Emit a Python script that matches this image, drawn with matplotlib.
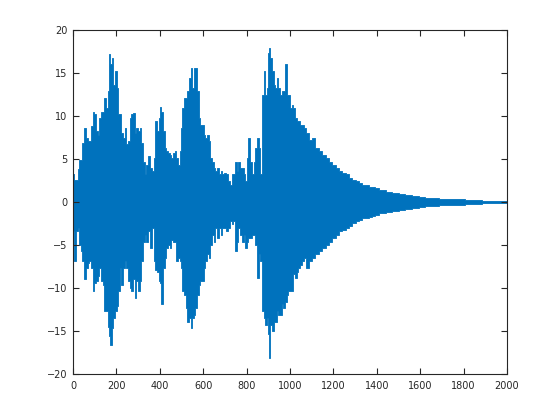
import matplotlib
matplotlib.use('Agg')
import matplotlib.pyplot as plt
import numpy as np

# envelope of the signal: sample index, upper and lower peaks
samples = [1, 9, 17, 25, 32, 40, 47, 55, 63, 71, 78, 86, 94, 101, 109, 117, 124, 132, 140, 147,
           155, 163, 167, 174, 181, 189, 197, 204, 212, 220, 227, 235, 243, 250, 258, 266, 273, 281, 289, 296,
           304, 312, 319, 327, 335, 342, 350, 361, 369, 376, 384, 392, 399, 404, 410, 418, 426, 433, 441, 449,
           456, 464, 472, 479, 487, 495, 499, 507, 515, 522, 530, 538, 545, 553, 561, 568, 576, 584, 591, 599,
           607, 614, 622, 630, 637, 645, 653, 660, 668, 676, 684, 691, 699, 711, 720, 728, 736, 743, 751, 759,
           766, 774, 782, 790, 797, 805, 812, 820, 828, 836, 843, 851, 859, 866, 874, 882, 889, 897, 902, 906,
           912, 920, 928, 935, 943, 951, 958, 966, 974, 982, 989, 997, 1005, 1012, 1020, 1028, 1035, 1043, 1051, 1058,
           1071, 1079, 1095, 1110, 1125, 1141, 1156, 1172, 1187, 1202, 1218, 1233, 1248, 1264, 1279, 1294, 1310, 1325, 1340, 1356,
           1371, 1386, 1402, 1417, 1433, 1455, 1485, 1516, 1547, 1578, 1608, 1639, 1670, 1700, 1731, 1768, 1845, 1921, 2000]
upper = [3.2, 2.6, 2.6, 3.8, 4.9, 4.9, 6.9, 8.6, 7.4, 7.1, 7.1, 8.8, 10.5, 10.2, 8.2, 7.8, 9.8, 10.5, 10.5, 12.1,
         10.9, 12.9, 17.2, 16.0, 16.7, 13.6, 15.2, 13.3, 10.2, 10.2, 8.0, 7.4, 8.6, 6.7, 7.1, 9.8, 10.2, 10.3, 8.0, 8.6,
         8.2, 8.6, 6.9, 4.7, 3.2, 4.3, 5.3, 4.0, 3.6, 5.1, 9.4, 8.2, 9.8, 11.1, 10.5, 8.2, 6.3, 5.9, 5.7, 5.5,
         5.1, 5.7, 5.9, 5.1, 4.3, 5.9, 8.6, 10.9, 12.1, 12.1, 12.9, 14.4, 15.6, 13.3, 15.6, 15.6, 12.9, 9.8, 9.0, 9.0,
         7.8, 7.4, 7.8, 7.1, 5.1, 4.7, 4.0, 3.6, 4.0, 3.2, 3.6, 3.2, 3.4, 3.2, 2.4, 2.0, 3.2, 3.2, 4.7, 3.6,
         4.7, 4.0, 4.0, 3.2, 2.4, 5.1, 7.4, 4.7, 3.2, 4.7, 6.3, 7.4, 6.3, 3.2, 12.5, 15.2, 12.5, 13.3, 17.3, 17.9,
         16.7, 15.2, 13.6, 13.3, 14.4, 13.3, 12.5, 12.9, 12.9, 16.0, 12.5, 12.5, 10.9, 11.3, 10.9, 9.8, 9.4, 9.4, 9.0, 9.0,
         8.6, 8.0, 7.2, 7.4, 6.3, 5.9, 5.5, 5.1, 4.7, 4.3, 4.0, 3.6, 3.4, 3.2, 2.8, 2.6, 2.4, 2.2, 2.0, 2.0,
         1.8, 1.7, 1.6, 1.4, 1.4, 1.2, 1.0, 0.9, 0.8, 0.7, 0.6, 0.5, 0.5, 0.4, 0.4, 0.3, 0.2, 0.15, 0.1]
lower = [-3.4, -6.9, -3.4, -3.0, -5.0, -5.7, -6.9, -9.0, -7.7, -7.1, -6.9, -7.7, -10.4, -9.4, -9.2, -8.6, -7.7, -9.2, -9.6, -12.7,
         -12.7, -14.5, -15.6, -16.6, -14.7, -13.5, -12.7, -12.1, -10.4, -7.7, -9.6, -7.7, -6.9, -7.7, -9.2, -10.0, -10.4, -9.0, -11.2, -9.2,
         -10.4, -9.2, -6.9, -4.6, -3.8, -4.6, -3.4, -5.3, -3.0, -6.9, -7.9, -8.1, -9.2, -9.4, -11.9, -7.7, -6.5, -5.3, -5.0, -5.3,
         -4.4, -4.6, -4.6, -6.9, -6.5, -6.9, -7.7, -10.4, -10.8, -12.3, -13.9, -13.5, -14.7, -13.5, -13.1, -12.3, -10.8, -9.6, -9.2, -9.2,
         -7.7, -6.9, -6.1, -6.5, -5.0, -3.8, -4.6, -3.0, -4.2, -3.0, -3.8, -3.0, -3.0, -3.4, -3.0, -2.2, -2.6, -2.2, -5.7, -4.6,
         -3.0, -3.8, -4.6, -3.8, -5.3, -4.6, -4.2, -4.2, -3.8, -3.8, -5.0, -8.8, -6.1, -6.9, -12.7, -13.5, -14.3, -13.5, -15.4, -18.1,
         -14.3, -15.0, -13.9, -13.9, -12.7, -13.1, -13.1, -11.9, -12.3, -11.6, -10.8, -10.4, -10.4, -10.4, -8.4, -8.8, -8.1, -7.7, -7.3, -6.9,
         -6.5, -7.7, -6.9, -6.5, -6.1, -5.7, -5.3, -5.0, -4.6, -4.2, -3.8, -3.4, -3.2, -3.0, -2.8, -2.4, -2.2, -2.1, -1.9, -1.9,
         -1.7, -1.6, -1.5, -1.3, -1.3, -1.2, -1.0, -0.9, -0.8, -0.7, -0.6, -0.5, -0.5, -0.4, -0.4, -0.3, -0.2, -0.15, -0.1]

xticks = [0, 200, 400, 600, 800, 1000, 1200, 1400, 1600, 1800, 2000]
yticks = [-20, -15, -10, -5, 0, 5, 10, 15, 20]

blue = '#0072BD'
dark = '#262626'

fig = plt.figure(figsize=(5.6, 4.2), dpi=100)
ax = fig.add_axes([73/560, 1 - 374/420, 434/560, 344/420])

ax.fill_between(samples, lower, upper, step='mid', color=blue, linewidth=0.6, edgecolor=blue)

ax.set_xlim(0, 2000)
ax.set_ylim(-20, 20)
ax.set_xticks(xticks)
ax.set_yticks(yticks)

for s in ax.spines.values():
    s.set_color(dark)
    s.set_linewidth(0.8)
ax.tick_params(direction='in', length=4, width=0.8, color=dark, labelcolor=dark,
               labelsize=7, top=True, right=True)
ax.tick_params(axis='x', pad=5)
ax.tick_params(axis='y', pad=4)

fig.savefig('out.png', dpi=100)
